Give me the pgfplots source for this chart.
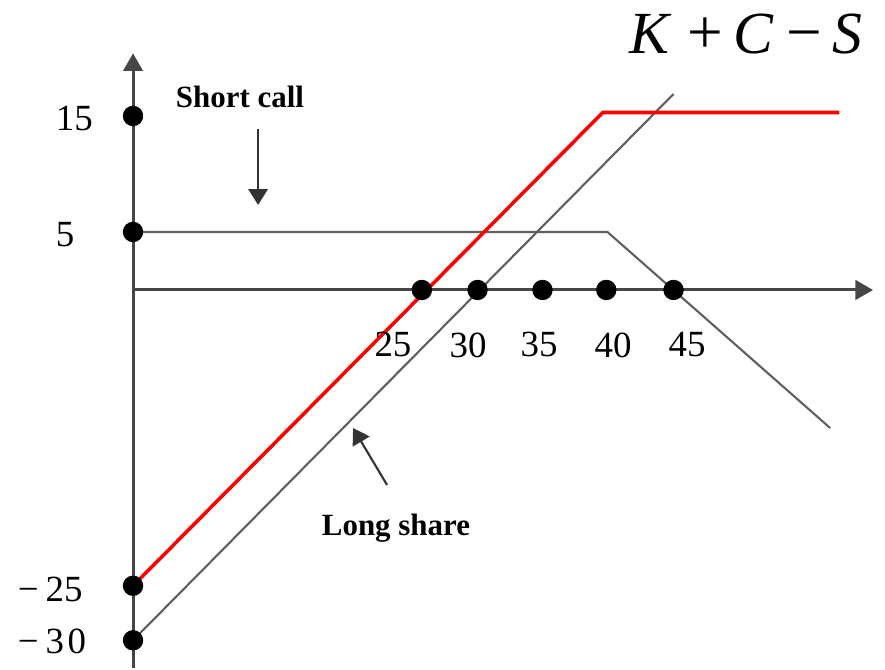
\documentclass[border=0pt]{standalone}
\usepackage{fontspec}
\setmainfont{Liberation Serif}
\usepackage{pgfplots}
\pgfplotsset{compat=1.18}
\usetikzlibrary{arrows.meta}
\definecolor{linegray}{RGB}{95,95,95}
\definecolor{axisgray}{RGB}{70,70,70}
\begin{document}
\begin{tikzpicture}
\begin{axis}[
  scale only axis, width=8.85cm, height=6.68cm,
  xmin=-11.47, xmax=64.83, ymin=-32.59, ymax=25,
  axis lines=none, clip=false,
]
\path (rel axis cs:0,0) rectangle (rel axis cs:1,1);
% axes
\addplot[axisgray, line width=0.85pt, -{Triangle[length=5pt,width=5.5pt]}] coordinates {(0,-32.6) (0,20.4)};
\addplot[axisgray, line width=0.85pt, -{Triangle[length=5pt,width=5.5pt]}] coordinates {(0,0) (63.8,0)};
% long share
\addplot[linegray, line width=0.6pt] coordinates {(0,-30.2) (46.6,16.9)};
% short call
\addplot[linegray, line width=0.6pt] coordinates {(0,5) (40.9,5) (60.1,-11.9)};
% combined
\addplot[red, line width=1pt] coordinates {(0,-25.5) (40.5,15.3) (60.9,15.3)};
% dots
\addplot[only marks, mark=*, mark size=2.7pt, black] coordinates {
 (0,15) (0,5) (0,-25.5) (0,-30.2)
 (24.9,0) (29.7,0) (35.3,0) (40.8,0) (46.6,0)};
% tick labels
\node[anchor=west, inner sep=0pt, font=\fontsize{10.5}{12}\selectfont] at (axis cs:-6.72,14.8) {15};
\node[anchor=west, inner sep=0pt, font=\fontsize{10.5}{12}\selectfont] at (axis cs:-6.72,4.74) {5};
\node[anchor=west, inner sep=0pt, font=\fontsize{10.5}{12}\selectfont] at (axis cs:-10.0,-25.86) {−\kern2pt25};
\node[anchor=west, inner sep=0pt, font=\fontsize{10.5}{12}\selectfont] at (axis cs:-10.0,-30.3) {−\kern2pt3\kern1pt0};
\node[font=\fontsize{10.5}{12}\selectfont] at (axis cs:22.41,-4.74) {25};
\node[font=\fontsize{10.5}{12}\selectfont] at (axis cs:28.88,-4.74) {30};
\node[font=\fontsize{10.5}{12}\selectfont] at (axis cs:35.0,-4.74) {35};
\node[font=\fontsize{10.5}{12}\selectfont] at (axis cs:41.38,-4.74) {40};
\node[font=\fontsize{10.5}{12}\selectfont] at (axis cs:47.76,-4.74) {45};
% annotations
\node[font=\fontsize{8.8}{10}\selectfont\bfseries] at (axis cs:9.22,16.64) {Short call};
\draw[black!80, line width=0.6pt, -{Triangle[length=4.5pt,width=5.5pt]}] (axis cs:10.78,13.88) -- (axis cs:10.78,7.33);
\node[font=\fontsize{8.8}{10}\selectfont\bfseries] at (axis cs:22.67,-20.52) {Long share};
\draw[black!80, line width=0.6pt, -{Triangle[length=4.5pt,width=5.5pt]}] (axis cs:21.9,-16.81) -- (axis cs:18.97,-11.9);
\node[font=\fontsize{17}{20}\selectfont] at (axis cs:52.84,22.1) {\textit{K}\kern4.5pt{\fontsize{18}{20}\selectfont+}\kern3pt\textit{C}\kern3.5pt{\fontsize{18}{20}\selectfont−}\kern3pt\textit{S}};
\end{axis}
\end{tikzpicture}
\end{document}
